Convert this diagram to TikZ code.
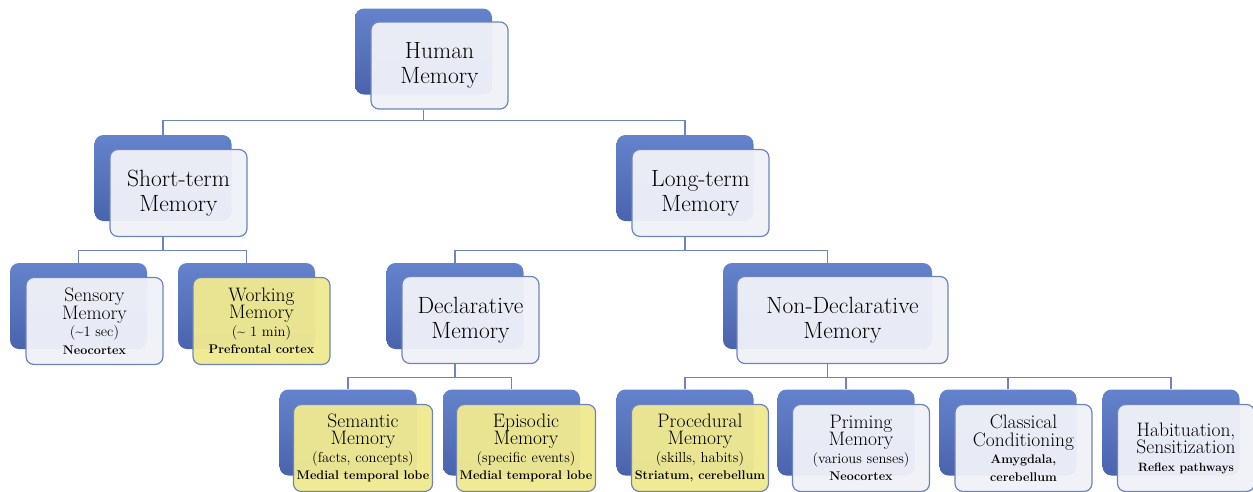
\documentclass[tikz,border=0pt]{standalone}
\usepackage{tikz}
\definecolor{bb}{RGB}{100, 131, 204}
\definecolor{bd}{RGB}{74, 100, 172}
\definecolor{ln}{RGB}{110, 132, 190}
\definecolor{fw}{RGB}{239, 241, 248}
\definecolor{fy}{RGB}{239, 233, 145}

\begin{document}
\begin{tikzpicture}[
  backbox/.style={rectangle, rounded corners=9pt, minimum width=137pt, minimum height=86pt, top color=bb, bottom color=bd, draw=none},
  frontbox/.style={rectangle, rounded corners=8pt, minimum width=137pt, minimum height=87pt, fill=fw, fill opacity=0.96, text opacity=1, draw=ln, line width=1.2pt, align=center},
  yellowbox/.style={frontbox, fill=fy},
  big/.style={font=\fontsize{23.5}{25}\selectfont},
  small/.style={font=\fontsize{19.5}{17.5}\selectfont},
  link/.style={line width=1.2pt, color=ln}]
\useasboundingbox (0pt, 0pt) rectangle (1253pt, -491pt);
% back boxes
\node (b1) [backbox] at (423.5pt, -51.5pt) {};
\node (b2) [backbox] at (163.0pt, -178.0pt) {};
\node (b3) [backbox] at (685.0pt, -178.0pt) {};
\node (b4) [backbox] at (78.5pt, -306.0pt) {};
\node (b5) [backbox] at (246.5pt, -306.0pt) {};
\node (b6) [backbox] at (455.0pt, -306.0pt) {};
\node (b7) [backbox, minimum width=209pt] at (827.5pt, -306.0pt) {};
\node (b8) [backbox] at (348.0pt, -432.5pt) {};
\node (b9) [backbox] at (511.5pt, -432.5pt) {};
\node (b10) [backbox] at (685.0pt, -432.5pt) {};
\node (b11) [backbox] at (846.0pt, -432.5pt) {};
\node (b12) [backbox] at (1008.0pt, -432.5pt) {};
\node (b13) [backbox] at (1171.0pt, -432.5pt) {};
% front boxes
\node (1) [frontbox, big] at (439.5pt, -65.5pt) {Human\\Memory};
\node (2) [frontbox, big] at (178.5pt, -193.0pt) {Short-term\\Memory};
\node (3) [frontbox, big] at (700.5pt, -193.0pt) {Long-term\\Memory};
\node (4) [frontbox, small] at (94.5pt, -321.0pt) {Sensory\\Memory\\{\fontsize{14.5}{15}\selectfont (\textasciitilde1 sec)}\\{\fontsize{12.5}{15}\selectfont\bfseries Neocortex}};
\node (5) [yellowbox, small] at (261.5pt, -321.0pt) {Working\\Memory\\{\fontsize{14.5}{15}\selectfont (\textasciitilde\ 1 min)}\\{\fontsize{12.5}{15}\selectfont\bfseries Prefrontal cortex}};
\node (6) [frontbox, big] at (470.5pt, -320.0pt) {Declarative\\Memory};
\node (7) [frontbox, big, minimum width=211pt] at (842.5pt, -320.0pt) {Non-Declarative\\Memory};
\node (8) [yellowbox, small] at (363.0pt, -448.0pt) {Semantic\\Memory\\{\fontsize{14.5}{15}\selectfont (facts, concepts)}\\{\fontsize{12.5}{15}\selectfont\bfseries Medial temporal lobe}};
\node (9) [yellowbox, small] at (526.0pt, -448.0pt) {Episodic\\Memory\\{\fontsize{14.5}{15}\selectfont (specific events)}\\{\fontsize{12.5}{15}\selectfont\bfseries Medial temporal lobe}};
\node (10) [yellowbox, small] at (700.0pt, -448.0pt) {Procedural\\Memory\\{\fontsize{14.5}{15}\selectfont (skills, habits)}\\{\fontsize{12.5}{15}\selectfont\bfseries Striatum, cerebellum}};
\node (11) [frontbox, small] at (861.0pt, -448.0pt) {Priming\\Memory\\{\fontsize{14.5}{15}\selectfont (various senses)}\\{\fontsize{12.5}{15}\selectfont\bfseries Neocortex}};
\node (12) [frontbox, small] at (1023.5pt, -448.0pt) {Classical\\Conditioning\\{\fontsize{12.5}{15}\selectfont\bfseries Amygdala,}\\{\fontsize{12.5}{15}\selectfont\bfseries cerebellum}};
\node (13) [frontbox, small] at (1186.0pt, -448.0pt) {Habituation,\\Sensitization\\{\fontsize{12}{14}\selectfont\bfseries Reflex pathways}};
% connectors
\draw [link] (b1 |- 1.south) -- ++(0pt, -11pt) coordinate (j1);
\draw [link] (b2.north) |- (j1) -| (b3.north);
\draw [link] (b2 |- 2.south) -- ++(0pt, -13pt) coordinate (j2);
\draw [link] (b4.north) |- (j2) -| (b5.north);
\draw [link] (b3 |- 3.south) -- ++(0pt, -13pt) coordinate (j3);
\draw [link] (b6.north) |- (j3) -| (b7.north);
\draw [link] (b6 |- 6.south) -- ++(0pt, -13pt) coordinate (j4);
\draw [link] (b8.north) |- (j4) -| (b9.north);
\draw [link] (b7 |- 7.south) -- ++(0pt, -13pt) coordinate (j5);
\draw [link] (b10.north) |- (j5) -| (b13.north);
\draw [link] (b11.north) -- (b11 |- j5);
\draw [link] (b12.north) -- (b12 |- j5);
\end{tikzpicture}
\end{document}
